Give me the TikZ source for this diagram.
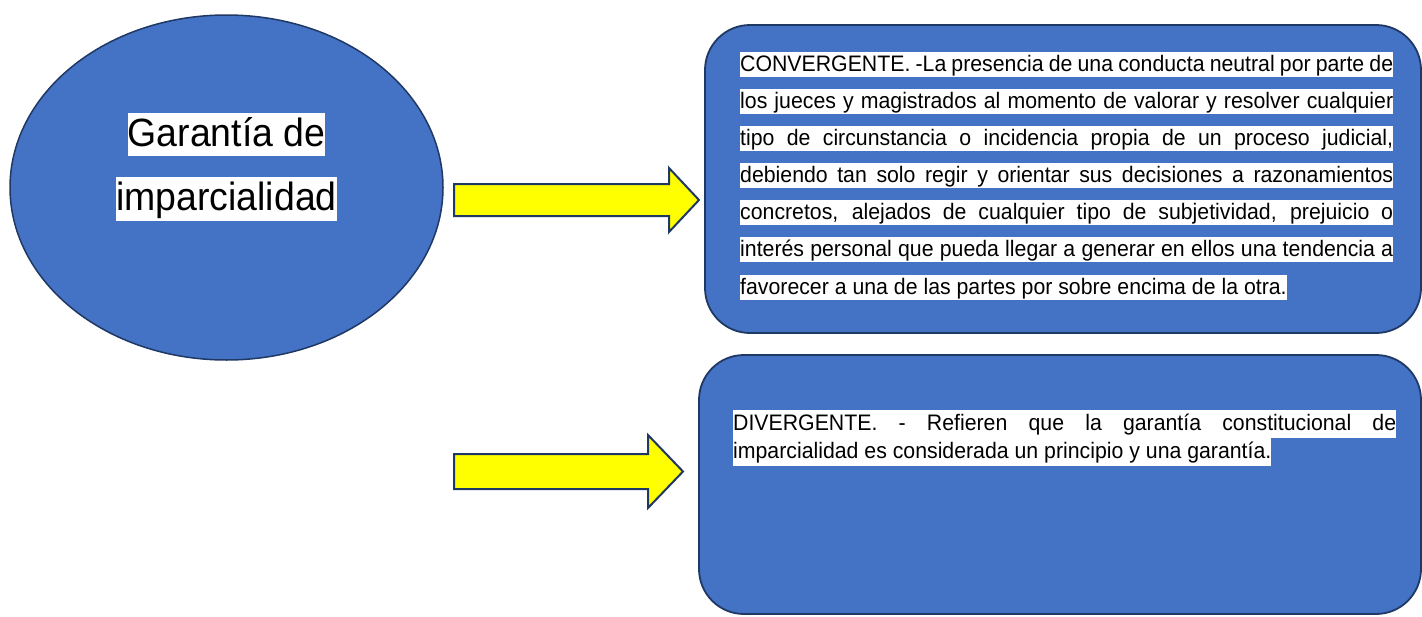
\documentclass[tikz,border=0pt]{standalone}
\usepackage{fontspec}
\setmainfont[FakeStretch=0.95]{Liberation Sans}
\usetikzlibrary{positioning,shapes.geometric}

\definecolor{ovalblue}{HTML}{4472C4}
\definecolor{edgenavy}{HTML}{1F3864}
\definecolor{arrowyellow}{HTML}{FFFF00}

\tikzset{
  panel/.style={rectangle, draw=edgenavy, line width=1.8pt, fill=ovalblue, rounded corners=45pt, inner sep=0pt},
  blockarrow/.style={draw=edgenavy, line width=2pt, fill=arrowyellow, line join=miter},
  hlline/.style={fill=white, inner sep=0pt, anchor=west, text height=19.5pt, text depth=5.5pt, font=\fontsize{22.4}{26}\selectfont},
  hlwide/.style={hlline, text height=21pt, text depth=7pt},
  hlbig/.style={fill=white, inner sep=0pt, text height=33.5pt, text depth=10pt, font=\fontsize{39.4}{47}\selectfont}
}

\begin{document}
\begin{tikzpicture}[x=1pt, y=-1pt]
\useasboundingbox (0,0) rectangle (1422,616);

% oval on the left
\node [ellipse, draw=edgenavy, line width=1.5pt, fill=ovalblue, minimum width=433pt, minimum height=345pt, inner sep=0pt] (oval) at (226.5,187.5) {};
\node [hlbig] (title1) at (226.5,134.5) {Garantía de};
\node [hlbig] (title2) at (226.5,199) {imparcialidad};

% the two boxes
\node [panel, minimum width=716pt, minimum height=308pt] (conv) at (1063,179) {};
\node [panel, minimum width=722pt, minimum height=259pt] (div) at (1060,484.5) {};

% yellow arrows
\draw [blockarrow] (454,184) -- (669,184) -- (669,168) -- (699,200) -- (669,232) -- (669,216) -- (454,216) -- cycle;
\draw [blockarrow] (454,454) -- (648,454) -- (648,435) -- (683,471.5) -- (648,508) -- (648,489) -- (454,489) -- cycle;

% text of the upper box
\foreach \row [count=\i from 0] in {
  {CONVERGENTE. -La presencia de una conducta neutral por parte de},
  {los jueces y magistrados al momento de valorar y resolver cualquier},
  {tipo de circunstancia o incidencia propia de un proceso judicial,},
  {debiendo tan solo regir y orientar sus decisiones a razonamientos},
  {concretos, alejados de cualquier tipo de subjetividad, prejuicio o},
  {interés personal que pueda llegar a generar en ellos una tendencia a}}
  \node [hlline] (conv\i) at (740,64.3+37.1*\i) {\makebox[653pt][s]{\row}};
\node [hlline, below=12.1pt of conv5.south west, anchor=north west] (conv6) {favorecer a una de las partes por sobre encima de la otra.};

% text of the lower box
\node [hlwide] (div0) at (733,423.5) {\makebox[663pt][s]{DIVERGENTE. - Refieren que la garantía constitucional de}};
\node [hlwide, below=0pt of div0.south west, anchor=north west] (div1) {imparcialidad es considerada un principio y una garantía.};

\end{tikzpicture}
\end{document}
